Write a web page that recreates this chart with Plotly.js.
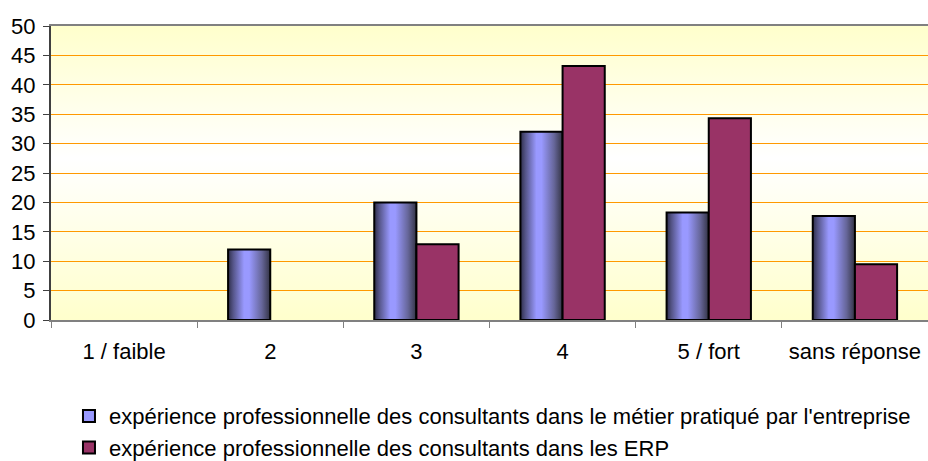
<!DOCTYPE html>
<html>
<head>
<meta charset="utf-8">
<script src="https://cdn.plot.ly/plotly-3.0.1.min.js"></script>
<style>
html,body{margin:0;padding:0;background:#fff;}
#chart{width:928px;height:461px;}
</style>
</head>
<body>
<div id="chart"></div>
<script>
var categories = ["1 / faible", "2", "3", "4", "5 / fort", "sans réponse"];
var seriesNames = [
  "expérience professionnelle des consultants dans le métier pratiqué par l'entreprise",
  "expérience professionnelle des consultants dans les ERP"
];
var metierValues = [null, 12, 20, 32, 18.3, 17.7];
var erpValues = [null, null, 12.9, 43.2, 34.3, 9.5];
var yTicks = [0, 5, 10, 15, 20, 25, 30, 35, 40, 45, 50];

var FONT = "Liberation Sans, Arial, sans-serif";
var FS = 22;

var traces = [
  {
    type: "bar", x: categories, y: metierValues, name: seriesNames[0],
    marker: {color: "#9999FF", line: {color: "#000000", width: 2}},
    hoverinfo: "x+y"
  },
  {
    type: "bar", x: categories, y: erpValues, name: seriesNames[1],
    marker: {color: "#993366", line: {color: "#000000", width: 2}},
    hoverinfo: "x+y"
  }
];

var layout = {
  width: 928, height: 461,
  margin: {l: 51, r: 0, t: 26, b: 141, pad: 0},
  paper_bgcolor: "#ffffff",
  plot_bgcolor: "#FFFFE6",
  font: {family: FONT, size: FS, color: "#000000"},
  barmode: "group",
  bargap: 0.423,
  bargroupgap: 0,
  showlegend: true,
  legend: {
    orientation: "v",
    x: 0.0205, xanchor: "left",
    y: 0.143, yanchor: "top", yref: "container",
    font: {family: FONT, size: FS, color: "#000000"},
    bgcolor: "rgba(0,0,0,0)",
    tracegroupgap: 0
  },
  xaxis: {
    type: "category",
    showline: true, linecolor: "#808080", linewidth: 2, mirror: true,
    showgrid: false, zeroline: false,
    ticks: "outside", tickson: "boundaries", ticklen: 6, tickcolor: "#808080", tickwidth: 1,
    tickfont: {family: FONT, size: FS, color: "#000000"},
    ticklabelstandoff: 11,
    fixedrange: true
  },
  yaxis: {
    range: [0, 50],
    tickvals: yTicks, ticktext: yTicks.map(String),
    showline: true, linecolor: "#404040", linewidth: 2,
    showgrid: true, gridcolor: "#FF9900", gridwidth: 1,
    zeroline: false,
    ticks: "outside", ticklen: 6, tickcolor: "#404040", tickwidth: 1,
    tickfont: {family: FONT, size: FS, color: "#000000"},
    ticklabelstandoff: 3,
    fixedrange: true
  }
};

Plotly.newPlot("chart", traces, layout, {displayModeBar: false, staticPlot: true}).then(function(gd){
  var svg = gd.querySelector(".main-svg");
  var defs = svg.querySelector("defs");
  var ns = "http://www.w3.org/2000/svg";
  function grad(id, vertical, stops){
    var g = document.createElementNS(ns, "linearGradient");
    g.setAttribute("id", id);
    g.setAttribute("x1", "0"); g.setAttribute("y1", "0");
    g.setAttribute("x2", vertical ? "0" : "1"); g.setAttribute("y2", vertical ? "1" : "0");
    stops.forEach(function(s){
      var st = document.createElementNS(ns, "stop");
      st.setAttribute("offset", s[0]);
      st.setAttribute("stop-color", s[1]);
      g.appendChild(st);
    });
    defs.appendChild(g);
  }
  grad("blueGrad", false, [["0","#2e2e4a"],["0.12","#555588"],["0.38","#9999FF"],["0.5","#9999FF"],["0.8","#666699"],["1","#333344"]]);
  grad("bgGrad", true, [["0","#FFFFCC"],["0.45","#FFFFFF"],["1","#FFFFCC"]]);
  var bg = svg.querySelector(".bglayer rect.bg");
  if (bg) bg.style.fill = "url(#bgGrad)";
  var barTraces = svg.querySelectorAll(".barlayer .trace");
  if (barTraces[0]) barTraces[0].querySelectorAll("path").forEach(function(p){ p.style.fill = "url(#blueGrad)"; });
});
</script>
</body>
</html>
